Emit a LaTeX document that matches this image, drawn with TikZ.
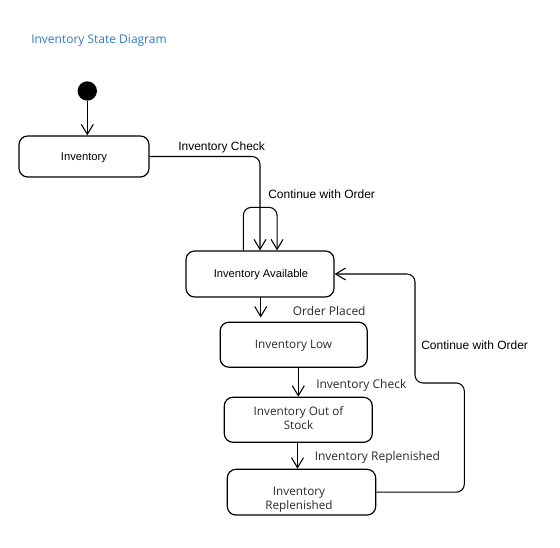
\documentclass[tikz,border=0pt]{standalone}
\usepackage{fontspec}
\setmainfont{Liberation Sans}
\newfontfamily\opensans{Open Sans}
\usetikzlibrary{arrows.meta}
\definecolor{titleblue}{RGB}{52,122,182}
\definecolor{txtgray}{RGB}{45,40,50}
\tikzset{
  statebox/.style={draw, line width=0.9pt, rounded corners=6.5pt, inner sep=0pt, align=center},
  arr/.style={draw, line width=0.8pt, -{Straight Barb[length=7.5pt,width=9pt,line width=0.8pt]}},
  arialtxt/.style={font=\fontsize{8.4}{10}\selectfont, text=black},
  opentxt/.style={font=\opensans\fontsize{8.8}{10.5}\selectfont, text=txtgray},
  arlabel/.style={anchor=west, inner sep=0pt, font=\fontsize{9}{11}\selectfont},
  oplabel/.style={anchor=west, inner sep=0pt, font=\opensans\fontsize{9}{11}\selectfont, text=txtgray},
}
\begin{document}
\begin{tikzpicture}[x=0.75pt,y=-0.75pt]
\useasboundingbox (0,0) rectangle (560,548);
\fill[white] (0,0) rectangle (560,548);

\node[anchor=west, inner sep=0pt, text=titleblue, font=\opensans\fontsize{9}{11}\selectfont] (title) at (31,41) {Inventory State Diagram};

\node[circle, fill=black, minimum size=14.5pt, inner sep=0pt] (start) at (87.3,91) {};

\node[statebox, arialtxt, minimum width=97.5pt, minimum height=30.75pt] (inv) at (84,156.5) {};
\node[arialtxt, inner sep=0pt] (invtxt) at (84,157.5) {Inventory};
\node[statebox, arialtxt, minimum width=111pt, minimum height=34.5pt] (avail) at (260,274) {};
\node[arialtxt, inner sep=0pt] (availtxt) at (261,275) {Inventory Available};
\node[statebox, opentxt, minimum width=110.25pt, minimum height=33.75pt] (low) at (293.7,344.7) {};
\node[opentxt, inner sep=0pt] (lowtxt) at (293.5,346) {Inventory Low};
\node[statebox, opentxt, minimum width=111pt, minimum height=33.75pt] (out) at (298.3,419.8) {};
\node[opentxt, align=center, inner sep=0pt] (outtxt) at (298.5,418) {Inventory Out of\\Stock};
\node[statebox, minimum width=111.3pt, minimum height=34.3pt] (repl) at (301.5,492.2) {};
\node[opentxt, align=center, inner sep=0pt] (repltxt) at (299,500) {Inventory\\Replenished};

% connectors
\coordinate (alowstart) at (260.7,297.5);
\coordinate (alowend) at (260.7,317.5);
\path[arr] (start.south) -- (start.south |- inv.north);
\path[arr, rounded corners=6pt] (inv.east) -| (avail.north);
\path[arr, rounded corners=6pt] ([xshift=-12.5pt]avail.north) -- ++(0,-43) -| ([xshift=12.8pt]avail.north);
\path[arr] (alowstart) -- (alowend);
\path[arr] (out.north |- low.south) -- (out.north);
\path[arr] ([xshift=-3pt]repl.north |- out.south) -- ([xshift=-3pt]repl.north);
\coordinate (r1) at (464.3,383);
\coordinate (r2) at (415,383);
\path[arr, rounded corners=6pt] (repl.east) -| (r1) -- (r2) |- (avail.east);

% labels
\node[arlabel] (l1) at (178,147) {Inventory Check};
\node[arlabel] (l2) at (268,194) {Continue with Order};
\node[oplabel] (l3) at (292.5,311) {Order Placed};
\node[arlabel] (l4) at (421,345.5) {Continue with Order};
\node[oplabel] (l5) at (316,385) {Inventory Check};
\node[oplabel] (l6) at (314.5,457) {Inventory Replenished};
\end{tikzpicture}
\end{document}
